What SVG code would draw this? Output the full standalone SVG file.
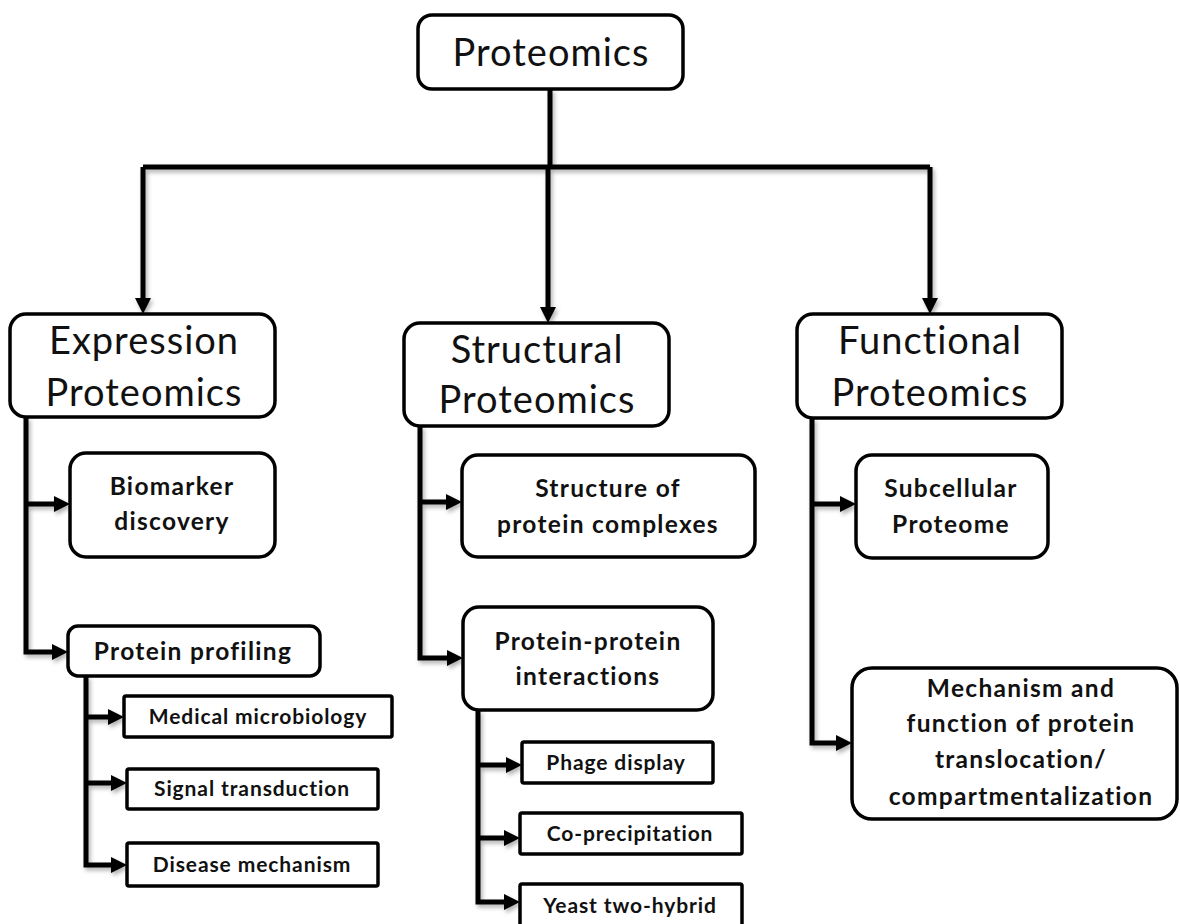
<svg xmlns="http://www.w3.org/2000/svg" width="1180" height="924" viewBox="0 0 1180 924">
<style>
.box{fill:#fff;stroke:#000;stroke-width:3.5}
.big{font-family:Lato,"Liberation Sans",sans-serif;font-size:38px;letter-spacing:1px;fill:#111;text-anchor:middle}
.med{font-family:Lato,"Liberation Sans",sans-serif;font-weight:bold;font-size:24.5px;letter-spacing:1.3px;fill:#111;text-anchor:middle}
.sm{font-family:Lato,"Liberation Sans",sans-serif;font-weight:bold;font-size:21px;letter-spacing:0.9px;fill:#111;text-anchor:middle}
.ln{fill:none;stroke:#000;stroke-width:5}
.ar{marker-end:url(#ah)}
</style>
<defs>
<marker id="ah" viewBox="0 0 16 16" markerWidth="16" markerHeight="16" refX="6" refY="8" orient="auto" markerUnits="userSpaceOnUse">
<path d="M0,0 L16,8 L0,16 z" fill="#000"/>
</marker>
<filter id="sh" x="-10%" y="-10%" width="120%" height="120%">
<feDropShadow dx="2" dy="3" stdDeviation="2" flood-color="#000" flood-opacity="0.3"/>
</filter>
</defs>
<g id="connectors" filter="url(#sh)">
<path class="ln" d="M550,89 V167"/>
<path class="ln" d="M143,167 H930" stroke-width="6"/>
<path class="ln ar" d="M143,167 V304"/>
<path class="ln ar" d="M548,167 V313"/>
<path class="ln ar" d="M930,167 V304"/>
<path class="ln ar" d="M26,417 V652 H58"/>
<path class="ln ar" d="M26,504 H60"/>
<path class="ln ar" d="M86,676 V865 H117"/>
<path class="ln ar" d="M86,717 H114"/>
<path class="ln ar" d="M86,783 H117"/>
<path class="ln ar" d="M420,426 V658 H453"/>
<path class="ln ar" d="M420,502 H452"/>
<path class="ln ar" d="M478,710 V902 H510"/>
<path class="ln ar" d="M478,765 H512"/>
<path class="ln ar" d="M478,838 H510"/>
<path class="ln ar" d="M812,418 V743 H842"/>
<path class="ln ar" d="M812,504 H846"/>
</g>
<g id="proteomics"><rect class="box" x="418" y="15" width="265" height="74" rx="14"/><text class="big" x="551" y="66">Proteomics</text></g>
<g id="expression"><rect class="box" x="10" y="314" width="265" height="103" rx="16"/><text class="big" x="144" y="354">Expression</text><text class="big" x="144" y="406">Proteomics</text></g>
<g id="structural"><rect class="box" x="404" y="323" width="265" height="103" rx="16"/><text class="big" x="537" y="363">Structural</text><text class="big" x="537" y="413">Proteomics</text></g>
<g id="functional"><rect class="box" x="797" y="314" width="265" height="104" rx="16"/><text class="big" x="930" y="354">Functional</text><text class="big" x="930" y="406">Proteomics</text></g>
<g id="biomarker"><rect class="box" x="70" y="453" width="205" height="104" rx="16"/><text class="med" x="172" y="495">Biomarker</text><text class="med" x="172" y="530">discovery</text></g>
<g id="profiling"><rect class="box" x="68" y="626" width="252" height="50" rx="10"/><text class="med" x="193" y="660">Protein profiling</text></g>
<g id="microbiology"><rect class="box" x="124" y="696" width="268" height="41" rx="2"/><text class="sm" x="258" y="724">Medical microbiology</text></g>
<g id="signal"><rect class="box" x="127" y="769" width="251" height="40" rx="2"/><text class="sm" x="252" y="796">Signal transduction</text></g>
<g id="disease"><rect class="box" x="127" y="843" width="251" height="43" rx="2"/><text class="sm" x="252" y="872">Disease mechanism</text></g>
<g id="complexes"><rect class="box" x="462" y="455" width="293" height="102" rx="16"/><text class="med" x="608" y="497">Structure of</text><text class="med" x="608" y="533">protein complexes</text></g>
<g id="ppi"><rect class="box" x="463" y="607" width="250" height="103" rx="16"/><text class="med" x="588" y="650">Protein-protein</text><text class="med" x="588" y="685">interactions</text></g>
<g id="phage"><rect class="box" x="522" y="742" width="191" height="41" rx="2"/><text class="sm" x="616" y="770">Phage display</text></g>
<g id="coprecip"><rect class="box" x="520" y="813" width="222" height="41" rx="2"/><text class="sm" x="630" y="841">Co-precipitation</text></g>
<g id="yeast"><rect class="box" x="520" y="884" width="222" height="50" rx="2"/><text class="sm" x="630" y="913">Yeast two-hybrid</text></g>
<g id="subcellular"><rect class="box" x="856" y="455" width="192" height="103" rx="16"/><text class="med" x="951" y="497">Subcellular</text><text class="med" x="951" y="533">Proteome</text></g>
<g id="mechanism"><rect class="box" x="852" y="668" width="325" height="151" rx="20"/><text class="med" x="1021" y="697">Mechanism and</text><text class="med" x="1021" y="732">function of protein</text><text class="med" x="1021" y="768">translocation/</text><text class="med" x="1021" y="805">compartmentalization</text></g>
</svg>
